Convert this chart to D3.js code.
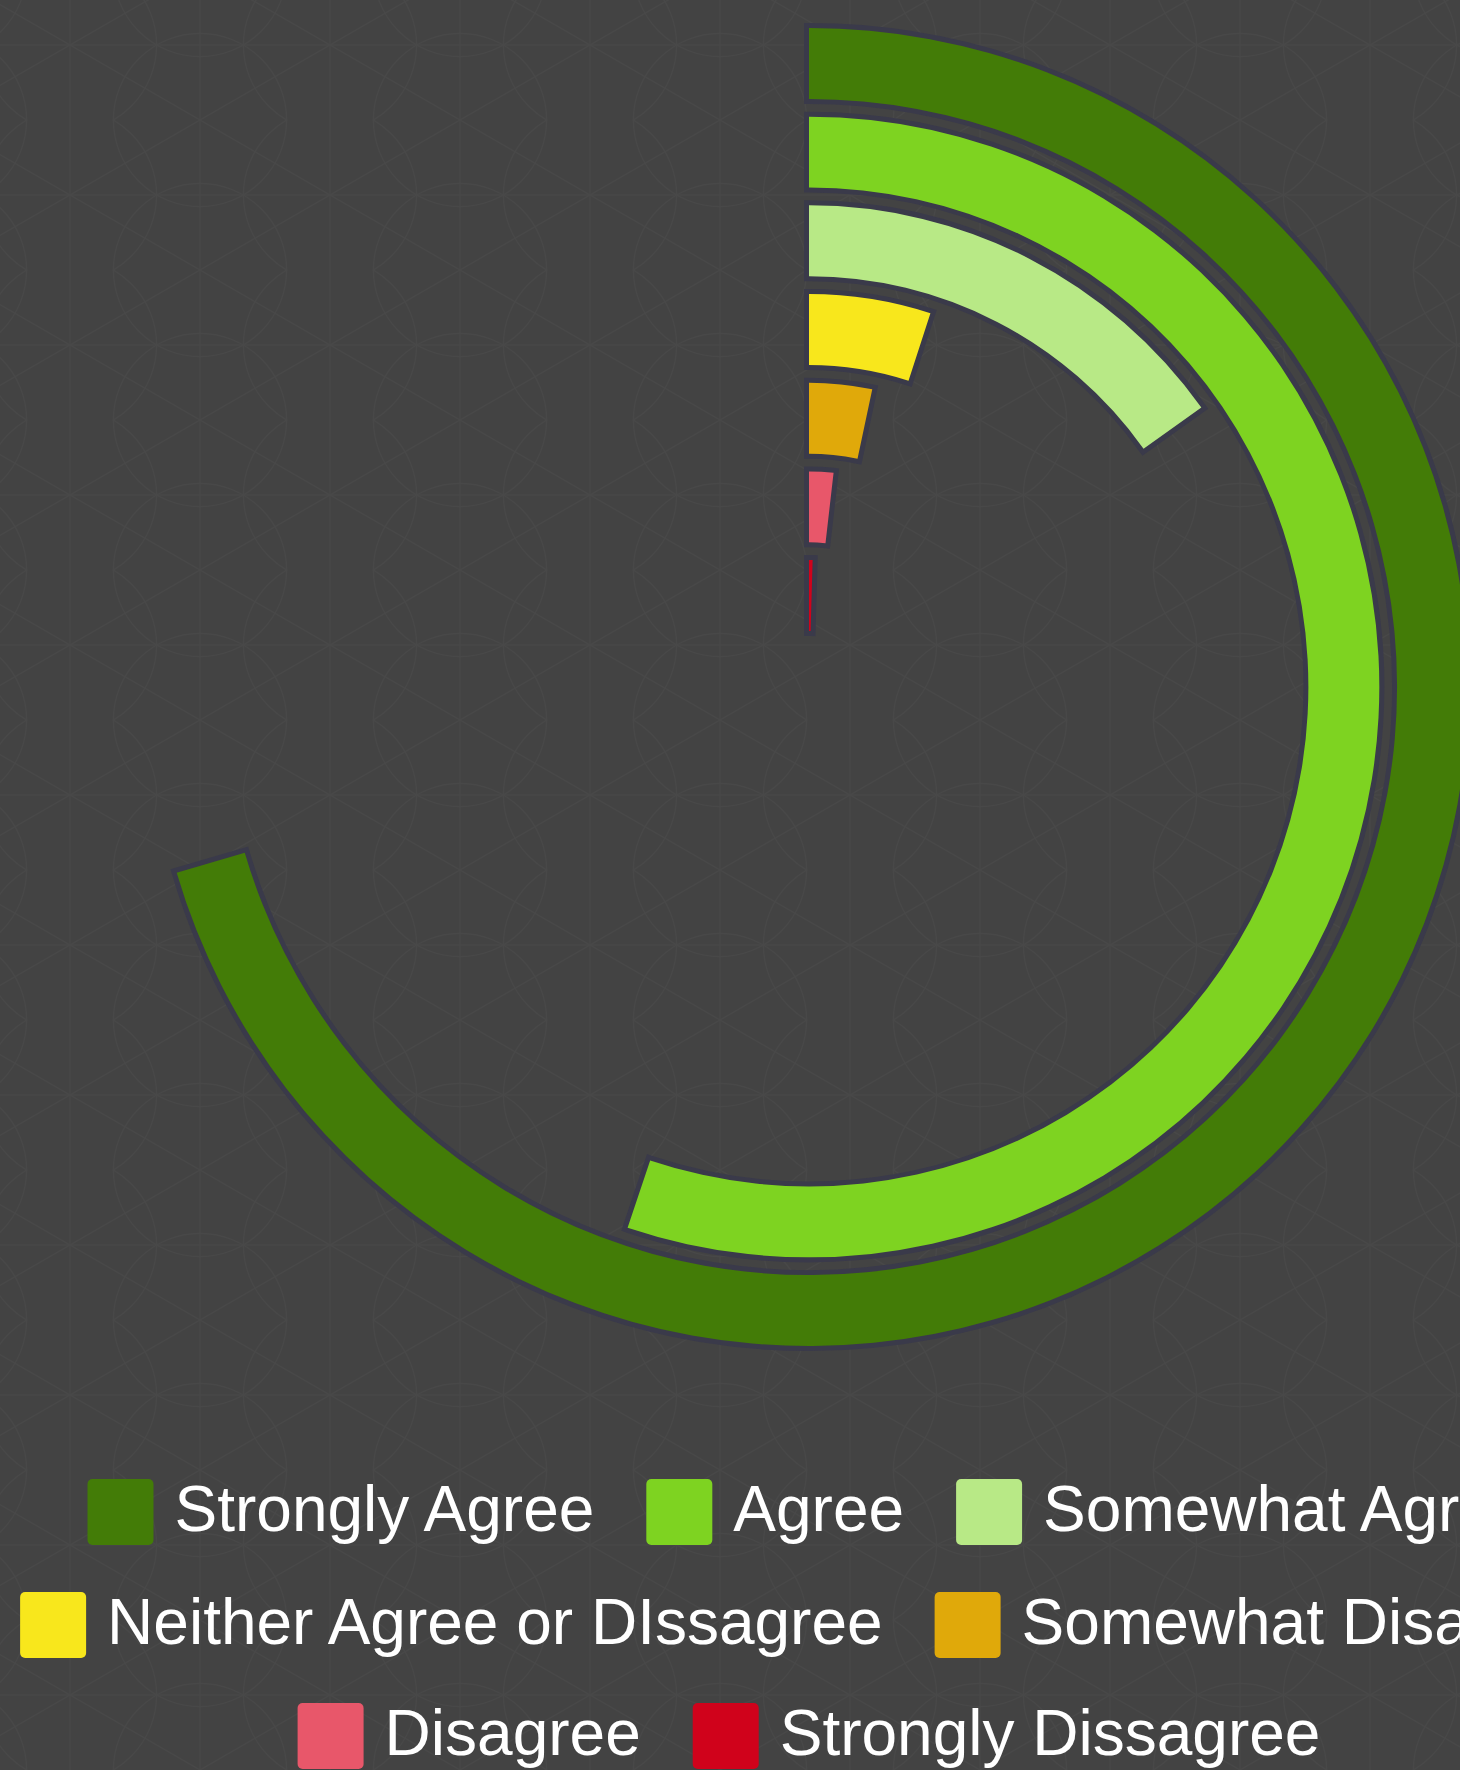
<!DOCTYPE html>
<html>
<head>
<meta charset="utf-8">
<script src="https://cdn.jsdelivr.net/npm/d3@7"></script>
<style>
  body { margin: 0; background: #434343; }
  svg { display: block; }
</style>
</head>
<body>
<svg width="1460" height="1770"></svg>
<script>
// survey answers, outermost ring first
const categories = ['Strongly Agree', 'Agree', 'Somewhat Agree', 'Neither Agree or DIssagree',
                    'Somewhat Disagree', 'Disagree', 'Strongly Dissagree']
const values = [46.5, 36.4, 10.0, 3.3, 2.2, 1.2, 0.3]
const colors = ['#437c07', '#7ed321', '#b8e986', '#f8e71c', '#e0a90a', '#e8576a', '#d0021b']
const legendRows = [
    ['Strongly Agree', 'Agree', 'Somewhat Agree'],
    ['Neither Agree or DIssagree', 'Somewhat Disagree'],
    ['Disagree', 'Strongly Dissagree']
]

const svg = d3.select('svg')
const width = 1460, height = 1770
const cx = 809, cy = 687

// faint geometric background
const defs = svg.append('defs')
const pat = defs.append('pattern')
    .attr('id', 'bg')
    .attr('patternUnits', 'userSpaceOnUse')
    .attr('x', 200).attr('y', 120)
    .attr('width', 260).attr('height', 150)
pat.append('rect').attr('width', 260).attr('height', 150).attr('fill', '#434343')
const nodes = [[0, 0], [260, 0], [0, 150], [260, 150], [130, 75]]
nodes.forEach(n => {
    pat.append('circle').attr('cx', n[0]).attr('cy', n[1]).attr('r', 86.6)
        .attr('fill', 'none').attr('stroke', '#484848').attr('stroke-width', 1.2)
})
const lines = [[0, 0, 0, 150], [260, 0, 260, 150], [130, 0, 130, 150],
    [0, 0, 260, 150], [0, 150, 260, 0], [0, 75, 260, 75]]
lines.forEach(l => {
    pat.append('line').attr('x1', l[0]).attr('y1', l[1]).attr('x2', l[2]).attr('y2', l[3])
        .attr('stroke', '#484848').attr('stroke-width', 1.2)
})
svg.append('rect').attr('width', width).attr('height', height).attr('fill', 'url(#bg)')

const data = categories.map((c, i) => ({ name: c, value: values[i], color: colors[i] }))

const angle = d3.scaleLinear()
    .domain([0, 66])
    .range([0, 2 * Math.PI])

const radius = d3.scaleBand()
    .domain(categories.slice().reverse())
    .range([56, 659])
    .paddingInner(0.2)
    .paddingOuter(0)

const arc = d3.arc()
    .startAngle(0)
    .endAngle(d => angle(d.value))
    .innerRadius(d => radius(d.name))
    .outerRadius(d => radius(d.name) + radius.bandwidth())

const chart = svg.append('g')
    .attr('transform', `translate(${cx},${cy})`)

chart.selectAll('path').data(data)
    .enter().append('path')
    .attr('d', arc)
    .attr('fill', d => d.color)
    .attr('stroke', '#3a3a4a')
    .attr('stroke-width', 10)
    .style('paint-order', 'stroke')

// legend, each row centred under the chart
const colorOf = d3.scaleOrdinal().domain(categories).range(colors)
const fontSize = 64
const box = 66
const rowY = [1512, 1625, 1736]

legendRows.forEach((row, r) => {
    const g = svg.append('g')
    let x = 0
    row.forEach((name, i) => {
        const item = g.append('g').attr('transform', `translate(${x},0)`)
        item.append('rect')
            .attr('y', -box / 2)
            .attr('width', box).attr('height', box)
            .attr('rx', 5)
            .attr('fill', colorOf(name))
        const t = item.append('text')
            .attr('x', box + 21)
            .attr('y', 19)
            .attr('fill', '#ffffff')
            .style('font-family', '"Liberation Sans", Arial, sans-serif')
            .style('font-size', fontSize + 'px')
            .text(name)
        x += box + 21 + t.node().getComputedTextLength()
        if (i < row.length - 1) x += 52
    })
    g.attr('transform', `translate(${cx - x / 2},${rowY[r]})`)
})
</script>
</body>
</html>
